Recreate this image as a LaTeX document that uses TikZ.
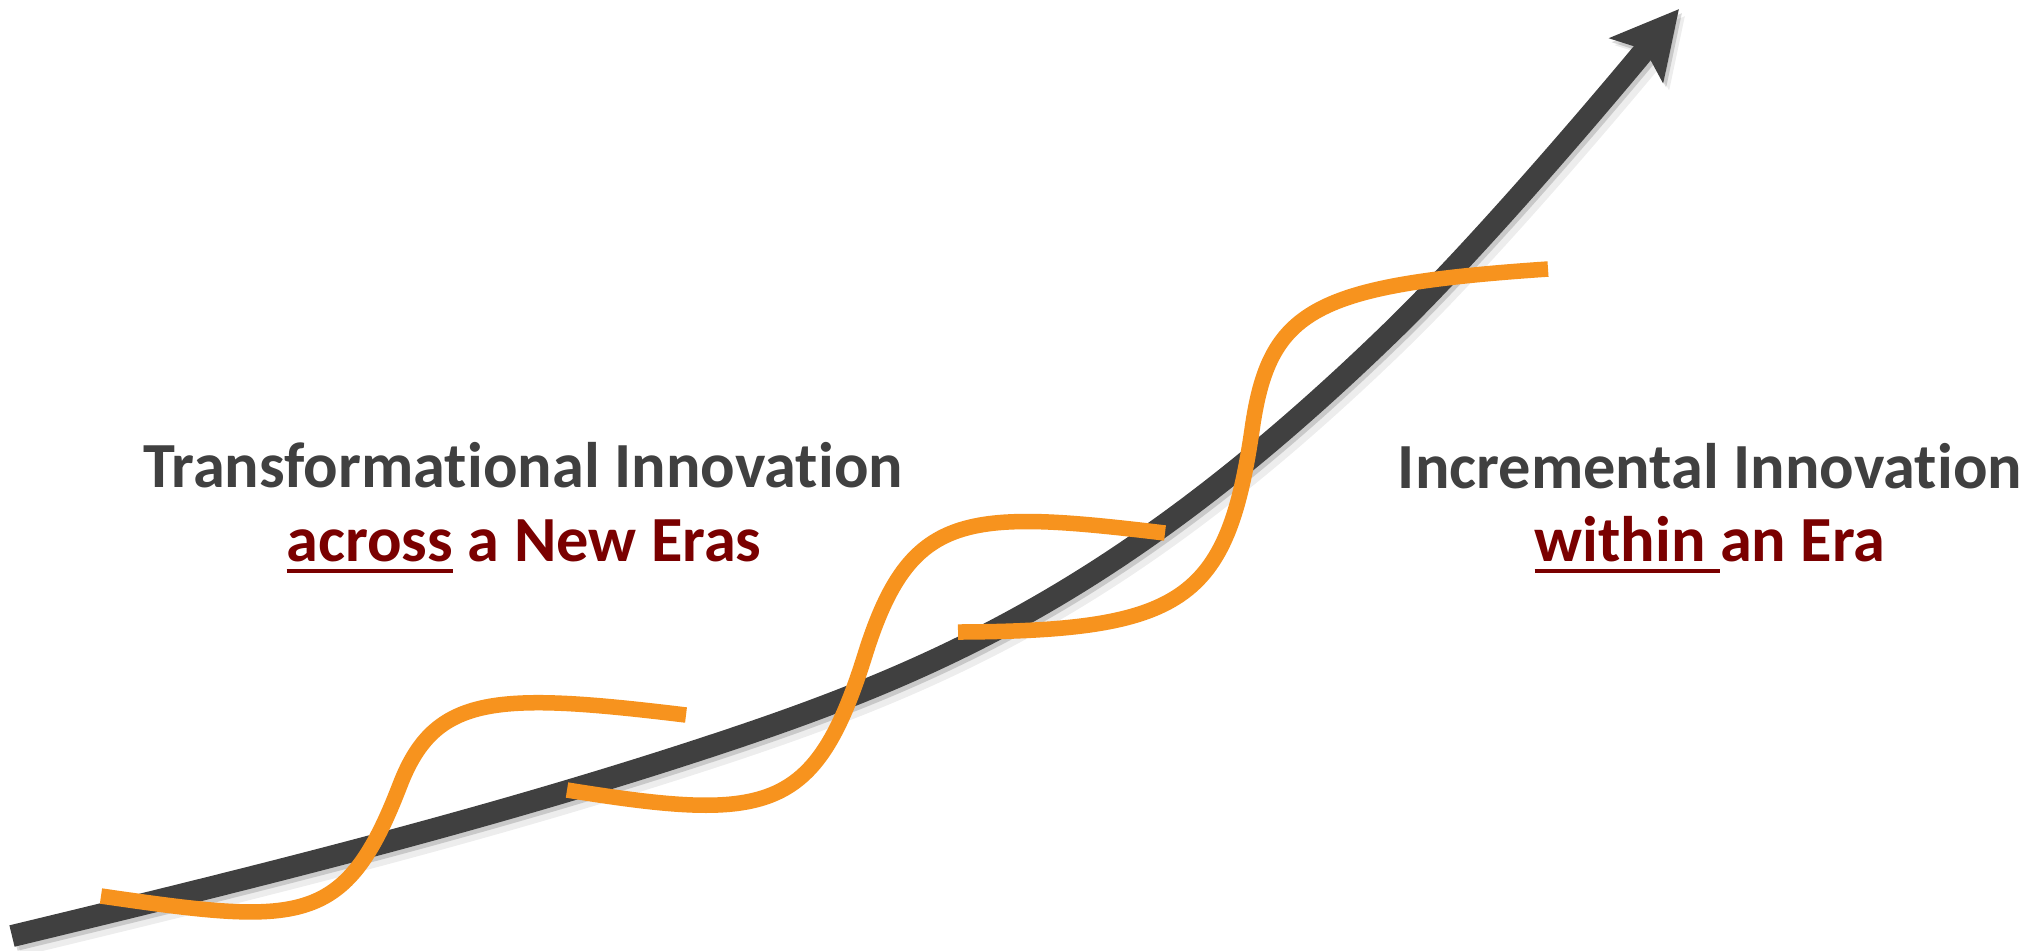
\documentclass[tikz,border=0pt]{standalone}
\usepackage{fontspec}
\setmainfont{Carlito}[Ligatures=NoCommon]
\usetikzlibrary{arrows.meta}
\definecolor{arrowgrey}{HTML}{404040}
\definecolor{orangeline}{HTML}{F7931E}
\definecolor{greytext}{HTML}{404040}
\definecolor{redtext}{HTML}{7A0000}
\newsavebox\ulbox
\newcommand\ulword[1]{\sbox\ulbox{#1}\rlap{\rule[-3.4pt]{\wd\ulbox}{1.1pt}}\usebox\ulbox}
\newcommand\mainarrowpath{(12,936) .. controls (248,879) and (485,821) .. (720,743)
  .. controls (943,669) and (1130,585) .. (1390,333)
  .. controls (1486,240) and (1615,86) .. (1679,9)}
\tikzset{
  bigarrow/.style={line width=0.22cm, -{Stealth[length=0.66cm, width=0.68cm, inset=0.13cm]}},
  wave/.style={draw=orangeline, line width=0.155cm},
  headline/.style={anchor=base, inner sep=0pt, text=greytext, font=\bfseries\fontsize{18.3}{18.3}\selectfont},
  subline/.style={anchor=base, inner sep=0pt, text=redtext, font=\bfseries\fontsize{18.3}{18.3}\selectfont}
}
\begin{document}
\begin{tikzpicture}[x=0.01cm, y=-0.01cm]
\useasboundingbox[fill=white] (0,0) rectangle (2036,950);
% soft shadow of the main arrow
\begin{scope}[shift={(6,7)}]
  \draw[bigarrow, draw=black, opacity=0.07, line width=0.27cm] \mainarrowpath;
\end{scope}
\begin{scope}[shift={(3,4)}]
  \draw[bigarrow, draw=black, opacity=0.15] \mainarrowpath;
\end{scope}
% main arrow
\draw[bigarrow, draw=arrowgrey] \mainarrowpath;
% orange waves
\draw[wave] (101,896) .. controls (301,925) and (345,928) .. (400,785)
                      .. controls (435,694) and (496,692) .. (686,715);
\draw[wave] (567,790) .. controls (767,822) and (815,815) .. (865,655)
                      .. controls (910,511) and (965,509) .. (1165,533);
\draw[wave] (958,632) .. controls (1183,631) and (1227,601) .. (1252,430)
                      .. controls (1269,309) and (1313,285) .. (1548,269);
% texts
\node[headline] (t1) at (523,487) {Transformational Innovation};
\node[subline] (t2) at (524,561) {\ulword{across} a New Eras};
\node[headline] (t3) at (1710,488) {Incremental Innovation};
\node[subline] (t4) at (1710,561) {\ulword{within\ }an Era};
\end{tikzpicture}
\end{document}
